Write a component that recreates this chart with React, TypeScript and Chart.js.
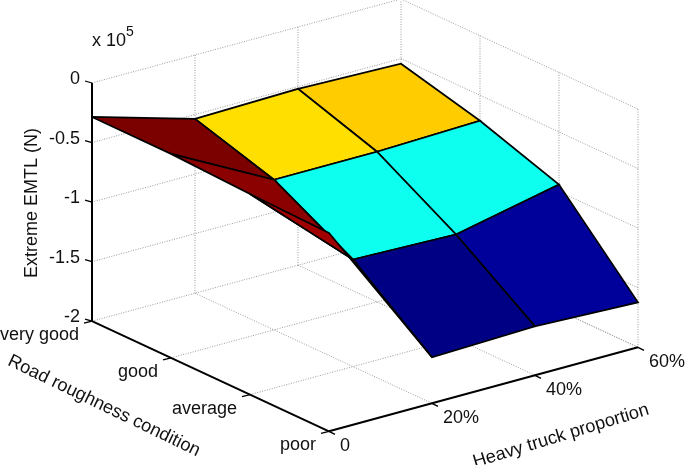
import React, { useEffect, useRef } from "react";
import { Chart, registerables } from "chart.js";

Chart.register(...registerables);

// ---- data ----
const truckLabels = ["0", "20%", "40%", "60%"];
const roughnessLabels = ["very good", "good", "average", "poor"];
const zTicks = [0, -0.5, -1, -1.5, -2];
const zTickLabels = ["0", "-0.5", "-1", "-1.5", "-2"];
// Extreme EMTL (x 10^5 N), one list per road roughness condition, across truck proportion
const emtlVeryGood = [-0.285, -0.536, -0.519, -0.544];
const emtlGood = [-0.287, -0.739, -0.739, -0.714];
const emtlAverage = [-0.315, -1.101, -1.126, -0.942];
const emtlPoor = [-0.334, -1.614, -1.589, -1.623];
const surface = [emtlVeryGood, emtlGood, emtlAverage, emtlPoor];
const cellColors = [
  ["#7b0000", "#ffdf00", "#ffcc00"],
  ["#8b0000", "#0dffef", "#0dffef"],
  ["#a00000", "#000085", "#00009a"],
];

// ---- orthographic view ----
const project = (t: number, r: number, z: number) => ({
  x: 92 + 103 * t + 79 * r,
  y: 83 + 36.7 * r - 28 * t - 119.1 * z,
});

const FONT = '"Liberation Sans", Arial, sans-serif';
const GRID = "#9a9a9a";
const lastT = truckLabels.length - 1;
const lastR = roughnessLabels.length - 1;
const zTop = zTicks[0];
const zBottom = zTicks[zTicks.length - 1];

const line = (pts: { x: number; y: number }[], color: string, width: number, dash: number[] = []) => ({
  data: pts,
  showLine: true,
  pointRadius: 0,
  borderColor: color,
  borderWidth: width,
  borderDash: dash,
  tension: 0,
  fill: false,
});

const buildDatasets = () => {
  const out: any[] = [];
  const grid = (a: any, b: any) => out.push(line([a, b], GRID, 1, [1, 1.5]));
  // back wall + side wall horizontals
  zTicks.forEach((z) => {
    grid(project(0, 0, z), project(lastT, 0, z));
    grid(project(lastT, 0, z), project(lastT, lastR, z));
  });
  // verticals
  truckLabels.forEach((_, t) => {
    if (t > 0) grid(project(t, 0, zTop), project(t, 0, zBottom));
  });
  roughnessLabels.forEach((_, r) => {
    if (r > 0) grid(project(lastT, r, zTop), project(lastT, r, zBottom));
  });
  // floor
  truckLabels.forEach((_, t) => {
    if (t > 0) grid(project(t, 0, zBottom), project(t, lastR, zBottom));
  });
  roughnessLabels.forEach((_, r) => {
    if (r > 0) grid(project(0, r, zBottom), project(lastT, r, zBottom));
  });

  // axes and ticks
  const ink = (a: any, b: any, w = 1.6) => out.push(line([a, b], "#000000", w));
  ink(project(0, 0, zTop), project(0, 0, zBottom), 2);
  ink(project(0, 0, zBottom), project(0, lastR, zBottom), 2);
  ink(project(0, lastR, zBottom), project(lastT, lastR, zBottom), 2);
  zTicks.forEach((z) => {
    const p = project(0, 0, z);
    ink(p, { x: p.x - 7, y: p.y - 2 }, 1.3);
  });
  roughnessLabels.forEach((_, r) => {
    const p = project(0, r, zBottom);
    ink(p, { x: p.x - 8, y: p.y + 2 }, 1.3);
  });
  truckLabels.forEach((_, t) => {
    const p = project(t, lastR, zBottom);
    ink(p, { x: p.x + 6, y: p.y + 3 }, 1.3);
  });

  // surface: right-hand columns first, the t = 0 column over them
  const cell = (r: number, t: number) => {
    const corners = [
      project(t, r, surface[r][t]),
      project(t + 1, r, surface[r][t + 1]),
      project(t + 1, r + 1, surface[r + 1][t + 1]),
      project(t, r + 1, surface[r + 1][t]),
      project(t, r, surface[r][t]),
    ];
    out.push({
      ...line(corners, "#000000", 1.7),
      fill: "shape",
      backgroundColor: cellColors[r][t],
    });
  };
  for (let t = lastT - 1; t >= 1; t--) {
    for (let r = 0; r < lastR; r++) cell(r, t);
  }
  for (let r = 0; r < lastR; r++) cell(r, 0);
  return out;
};

const textPlugin = {
  id: "plot3dText",
  afterDatasetsDraw(chart: any) {
    const { ctx, scales } = chart;
    const px = (p: { x: number; y: number }) => ({
      x: scales.x.getPixelForValue(p.x),
      y: scales.y.getPixelForValue(p.y),
    });
    const put = (s: string, x: number, y: number, align: CanvasTextAlign, size = 18, angle = 0) => {
      ctx.save();
      ctx.translate(x, y);
      ctx.rotate(angle);
      ctx.font = `${size}px ${FONT}`;
      ctx.fillStyle = "#111111";
      ctx.textAlign = align;
      ctx.textBaseline = "middle";
      ctx.fillText(s, 0, 0);
      ctx.restore();
    };
    zTicks.forEach((z, i) => {
      const p = px(project(0, 0, z));
      put(zTickLabels[i], p.x - 12, p.y - 4, "right");
    });
    roughnessLabels.forEach((label, r) => {
      const p = px(project(0, r, zBottom));
      put(label, p.x - 13, p.y + 14, "right");
    });
    truckLabels.forEach((label, t) => {
      const p = px(project(t, lastR, zBottom));
      put(label, p.x + 11, p.y + 15, "left");
    });
    put("x 10", 92, 41, "left");
    put("5", 126, 32, "left", 14);
    put("Extreme EMTL (N)", 32, 203, "center", 18, -Math.PI / 2);
    put("Road roughness condition", 104, 406, "center", 18.2, (25.8 * Math.PI) / 180);
    put("Heavy truck proportion", 561, 436, "center", 18.2, (-17 * Math.PI) / 180);
  },
};

export default function App() {
  const ref = useRef<HTMLCanvasElement>(null);
  useEffect(() => {
    if (!ref.current) return;
    const chart = new Chart(ref.current, {
      type: "scatter",
      data: { datasets: buildDatasets().reverse() },
      options: {
        animation: false,
        responsive: false,
        layout: { padding: 0 },
        plugins: { legend: { display: false }, tooltip: { enabled: false } },
        events: [],
        scales: {
          x: { type: "linear", min: 0, max: 685, display: false },
          y: { type: "linear", min: 0, max: 465, reverse: true, display: false },
        },
      },
      plugins: [textPlugin],
    } as any);
    return () => chart.destroy();
  }, []);
  return (
    <div style={{ position: "absolute", left: 0, top: 0, width: 685, height: 465, background: "#fff" }}>
      <canvas ref={ref} width={685} height={465} style={{ display: "block" }} />
    </div>
  );
}
